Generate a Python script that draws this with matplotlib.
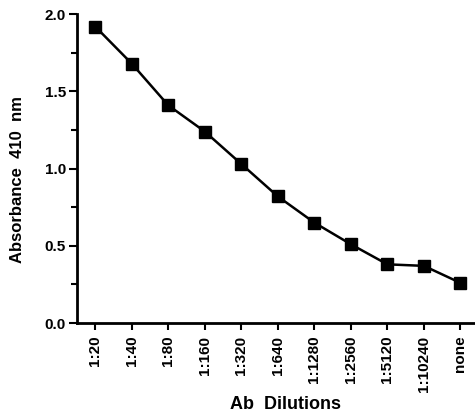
import matplotlib
matplotlib.use('Agg')
import matplotlib.pyplot as plt
from matplotlib.ticker import MultipleLocator

dilutions = ['1:20', '1:40', '1:80', '1:160', '1:320', '1:640', '1:1280',
             '1:2560', '1:5120', '1:10240', 'none']
absorbance = [1.92, 1.68, 1.41, 1.24, 1.03, 0.82, 0.65, 0.51, 0.38, 0.37, 0.26]

plt.rcParams['font.family'] = ['Liberation Sans', 'DejaVu Sans']

fig = plt.figure(figsize=(4.75, 4.17), dpi=100)
ax = fig.add_axes([0.162, 0.2254, 0.838, 0.7406])

x = list(range(len(dilutions)))
ax.plot(x, absorbance, color='black', lw=1.8, marker='s', markersize=9,
        markerfacecolor='black', markeredgecolor='black', clip_on=False)

ax.set_xlim(-0.5, 10.4)
ax.set_ylim(0, 2.0)
ax.set_xticks(x)
ax.set_xticklabels(dilutions, rotation=90, fontsize=11, fontweight='bold')
ax.yaxis.set_minor_locator(MultipleLocator(0.25))
ax.set_yticks([0, 0.5, 1.0, 1.5, 2.0])
ax.set_yticklabels(['0.0', '0.5', '1.0', '1.5', '2.0'], fontsize=11, fontweight='bold')
ax.tick_params(axis='both', which='both', direction='out', width=1.5)
ax.tick_params(axis='y', which='major', length=6, pad=2)
ax.tick_params(axis='y', which='minor', length=4)
ax.tick_params(axis='x', length=5, pad=4)

for s in ['top', 'right']:
    ax.spines[s].set_visible(False)
for s in ['left', 'bottom']:
    ax.spines[s].set_linewidth(2)

# axis titles placed where the reference has them
fig.text(0.6, 0.03, 'Ab  Dilutions', fontsize=13, fontweight='bold',
         ha='center', va='center')
fig.text(0.036, 0.57, 'Absorbance  410  nm', fontsize=12, fontweight='bold',
         ha='center', va='center', rotation=90)

fig.savefig('out.png', dpi=100, facecolor='white')
